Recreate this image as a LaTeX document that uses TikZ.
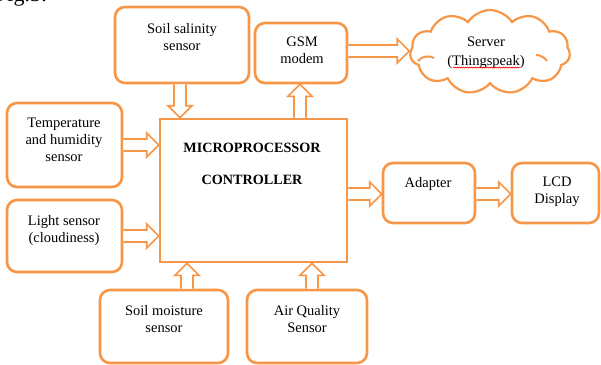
\documentclass[tikz,border=0pt]{standalone}
\usepackage{fontspec}
\setmainfont{Liberation Serif}
\usetikzlibrary{calc,shapes.symbols,decorations.pathmorphing}
\definecolor{org}{RGB}{247,150,70}
\def\aSW{6pt}
\def\aHW{12pt}
\def\aHL{12pt}
\newcommand\blockarrow[2]{%
  \coordinate (ba-a) at #1;
  \coordinate (ba-b) at #2;
  \coordinate (ba-h) at ($(ba-b)!\aHL!(ba-a)$);
  \draw[arr] ($(ba-a)!\aSW!90:(ba-b)$) -- ($(ba-h)!\aSW!90:(ba-b)$) -- ($(ba-h)!\aHW!90:(ba-b)$)
    -- (ba-b) -- ($(ba-h)!\aHW!-90:(ba-b)$) -- ($(ba-h)!\aSW!-90:(ba-b)$) -- ($(ba-a)!\aSW!-90:(ba-b)$);
}
\begin{document}
\begin{tikzpicture}[x=1pt,y=-1pt,
  box/.style={draw=org, line width=2.6pt, rounded corners=10pt, fill=white, inner sep=0},
  mpbox/.style={draw=org, line width=2.6pt, fill=white, inner sep=0},
  txt/.style={font=\fontsize{14.5}{17}\selectfont, align=center, inner sep=0, anchor=north},
  arr/.style={draw=org, line width=1.6pt, fill=white, line join=miter}]
\clip (0,0) rectangle (601,364);
\useasboundingbox (0,0) rectangle (601,364);
% caption remnant
\node[anchor=base west, font=\fontsize{22}{26}\selectfont, inner sep=0] (fig) at (-5,1.5) {Fig.3:};
% boxes
\node[box, minimum width=134, minimum height=76] (sal) at (182,45) {};
\node[box, minimum width=92, minimum height=60] (gsm) at (301,53) {};
\node[box, minimum width=115, minimum height=84] (tmp) at (64.5,145) {};
\node[box, minimum width=115, minimum height=72] (lgt) at (64.5,236) {};
\node[mpbox, minimum width=187, minimum height=143] (mp) at (253.5,190.5) {};
\node[box, minimum width=92, minimum height=60] (adp) at (429,193) {};
\node[box, minimum width=87, minimum height=60] (lcd) at (555.5,193) {};
\node[box, minimum width=128, minimum height=73] (smo) at (164,326.5) {};
\node[box, minimum width=120, minimum height=73] (aqs) at (307,326.5) {};
\node[cloud, draw=org, line width=2.2pt, fill=white, cloud puffs=11, cloud puff arc=115, aspect=2.1,
  minimum width=160, minimum height=84, inner sep=0] (srv) at (490,52) {};
\draw[org, line width=2pt] (418,61) .. controls (422,56) and (429,55) .. (434,58);
\draw[org, line width=2pt] (536,55) .. controls (541,55) and (545,58) .. (547,61);
% arrows
\blockarrow{(180,0 |- sal.south)}{(180,0 |- mp.north)}
\blockarrow{(300,0 |- mp.north)}{(300,0 |- gsm.south)}
\blockarrow{(0,51 -| gsm.east)}{(0,51 -| srv.west)}
\blockarrow{(0,145 -| tmp.east)}{(0,145 -| mp.west)}
\blockarrow{(0,236 -| lgt.east)}{(0,236 -| mp.west)}
\blockarrow{(0,194 -| mp.east)}{(0,194 -| adp.west)}
\blockarrow{(0,194 -| adp.east)}{(0,194 -| lcd.west)}
\blockarrow{(187,0 |- smo.north)}{(187,0 |- mp.south)}
\blockarrow{(312,0 |- aqs.north)}{(312,0 |- mp.south)}
% texts
\node[txt] (salT) at (182,23) {Soil salinity\\sensor};
\node[txt] (gsmT) at (302,37) {GSM\\modem};
\node[txt] (tmpT) at (64,118) {Temperature\\and humidity\\sensor};
\node[txt] (lgtT) at (64,215) {Light sensor\\(cloudiness)};
\node[txt] (adpT) at (428,177) {Adapter};
\node[txt] (lcdT) at (557,177) {LCD\\Display};
\node[txt] (smoT) at (164,305) {Soil moisture\\sensor};
\node[txt] (aqsT) at (307,305) {Air Quality\\Sensor};
\node[txt, font=\fontsize{14.5}{18.5}\selectfont] (srvT) at (486,37) {Server\\(Thingspeak)};
\node[anchor=north, inner sep=0, align=center, font=\bfseries\fontsize{14.2}{17}\selectfont] (mpT) at (252,143) {MICROPROCESSOR\\[15pt]CONTROLLER};
\coordinate (sq1) at (453,67.5);
\coordinate (sq2) at (520,67.5);
\draw[red, line width=0.5pt, decorate, decoration={zigzag, segment length=2pt, amplitude=0.6pt}] (sq1) -- (sq2);
\end{tikzpicture}
\end{document}
